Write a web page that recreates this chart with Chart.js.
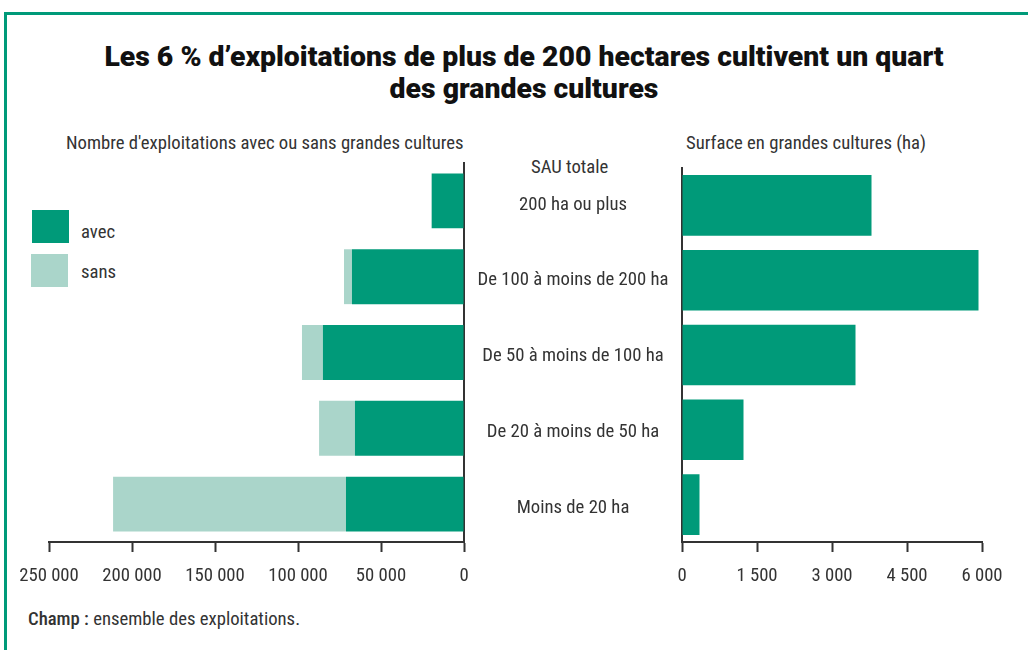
<!DOCTYPE html>
<html>
<head>
<meta charset="utf-8">
<script src="https://cdn.jsdelivr.net/npm/chart.js@4/dist/chart.umd.min.js"></script>
<style>
    body { margin: 0; width: 1028px; height: 650px; background: #fff; position: relative; overflow: hidden;
        font-family: Roboto, sans-serif; font-stretch: condensed; color: #333; }
    #frame { position: absolute; left: 4px; top: 12px; width: 1030px; height: 650px;
        border-top: 3px solid #009a79; border-left: 3px solid #009a79; }
    .txt { position: absolute; white-space: nowrap; font-size: 18.7px; line-height: 22px; color: #333; }
    #title { position: absolute; left: 0; width: 1048px; top: 41px; text-align: center; font-stretch: normal;
        font-size: 28.4px; font-weight: 900; color: #111; line-height: 32px; }
    .sw { position: absolute; width: 37px; height: 33px; }
    canvas { position: absolute; }
</style>
</head>
<body>
<div id="frame"></div>
<div id="title">Les 6 % d’exploitations de plus de 200 hectares cultivent un quart<br>des grandes cultures</div>
<div class="txt" style="left:66px; top:132px;">Nombre d'exploitations avec ou sans grandes cultures</div>
<div class="txt" style="left:686px; top:132px;">Surface en grandes cultures (ha)</div>
<div class="txt" style="left:531px; top:156px;">SAU totale</div>
<div class="sw" style="left:32px; top:210px; background:#009a79;"></div>
<div class="sw" style="left:31px; top:254px; background:#aad5ca;"></div>
<div class="txt" style="left:81px; top:221px;">avec</div>
<div class="txt" style="left:81px; top:261px;">sans</div>
<div class="txt" style="left:28px; top:608px;"><span style="font-weight:500">Champ :</span> ensemble des exploitations.</div>

<div style="position:absolute; left:0; top:150px; width:690px; height:442px;"><canvas id="left_chart"></canvas></div>
<div style="position:absolute; left:660px; top:150px; width:368px; height:442px;"><canvas id="right_chart"></canvas></div>

<script>
    // catégories de SAU totale
    var categories = ['200 ha ou plus', 'De 100 à moins de 200 ha', 'De 50 à moins de 100 ha', 'De 20 à moins de 50 ha', 'Moins de 20 ha'];
    // nombre d'exploitations
    var avec = [19400, 67500, 85000, 65700, 71100];
    var sans = [300, 4800, 12600, 21600, 140300];
    // surface en grandes cultures (ha)
    var surface = [3790, 5930, 3470, 1230, 350];
    var leftTicks = [0, 50000, 100000, 150000, 200000, 250000];
    var rightTicks = [0, 1500, 3000, 4500, 6000];

    var vert = '#009a79';
    var vertClair = '#aad5ca';
    var police = 'Roboto, sans-serif';
    var taille = 18.7;

    Chart.defaults.font.family = police;
    Chart.defaults.color = '#333';
    Chart.defaults.animation = false;

    function fmt(v) {
        return String(v).replace(/\B(?=(\d{3})+(?!\d))/g, ' ');
    }

    // pas de marge automatique autour des axes
    function noPad(scale) {
        scale.paddingLeft = 0;
        scale.paddingRight = 0;
        scale.paddingTop = 0;
        scale.paddingBottom = 0;
    }

    // largeur du libellé le plus long pour centrer les catégories vers x=573
    var mesure = document.createElement('canvas').getContext('2d');
    mesure.font = 'condensed ' + taille + 'px ' + police;
    var plusLarge = 0;
    categories.forEach(function (c) {
        plusLarge = Math.max(plusLarge, mesure.measureText(c).width);
    });
    var padCat = 573 - 464 - plusLarge / 2;

    var xScale = function (list, opts) {
        var s = {
            afterBuildTicks: function (scale) {
                scale.ticks = list.map(function (v) { return {value: v}; });
            },
            afterFit: function (scale) {
                scale.height = 50;
                noPad(scale);
            },
            grid: {drawOnChartArea: false, tickLength: 10, color: '#333', tickWidth: 2},
            border: {color: '#333', width: 2},
            ticks: {font: {size: taille, weight: 'condensed'}, padding: 13, maxRotation: 0,
                callback: function (v) { return fmt(v); }}
        };
        for (var k in opts) s[k] = opts[k];
        return s;
    };

    // graphique de gauche : nombre d'exploitations
    new Chart(document.getElementById('left_chart').getContext('2d'), {
        type: 'bar',
        data: {
            labels: categories,
            datasets: [
                {label: 'avec', data: avec, backgroundColor: vert, barPercentage: 0.724, categoryPercentage: 1},
                {label: 'sans', data: sans, backgroundColor: vertClair, barPercentage: 0.724, categoryPercentage: 1}
            ]
        },
        options: {
            indexAxis: 'y',
            responsive: true,
            maintainAspectRatio: false,
            layout: {autoPadding: false, padding: {left: 49, top: 13, right: 0, bottom: 0}},
            plugins: {legend: {display: false}, tooltip: {enabled: false}},
            scales: {
                x: xScale(leftTicks, {stacked: true, reverse: true, min: 0, max: 250000}),
                y: {
                    stacked: true, position: 'right',
                    afterFit: function (scale) {
                        scale.width = 226;
                        noPad(scale);
                    },
                    grid: {display: false, drawTicks: false},
                    border: {color: '#333', width: 2},
                    ticks: {font: {size: taille, weight: 'condensed'}, crossAlign: 'center', padding: padCat, labelOffset: 4}
                }
            }
        }
    });

    // graphique de droite : surface en grandes cultures
    new Chart(document.getElementById('right_chart').getContext('2d'), {
        type: 'bar',
        data: {
            labels: categories,
            datasets: [
                {label: 'surface', data: surface, backgroundColor: vert, barPercentage: 0.81, categoryPercentage: 1}
            ]
        },
        options: {
            indexAxis: 'y',
            responsive: true,
            maintainAspectRatio: false,
            layout: {autoPadding: false, padding: {left: 0, top: 18, right: 46, bottom: 0}},
            plugins: {legend: {display: false}, tooltip: {enabled: false}},
            scales: {
                x: xScale(rightTicks, {min: 0, max: 6000}),
                y: {
                    position: 'left',
                    afterFit: function (scale) {
                        scale.width = 22;
                        noPad(scale);
                    },
                    grid: {display: false, drawTicks: false},
                    border: {color: '#333', width: 2},
                    ticks: {display: false}
                }
            }
        }
    });
</script>
</body>
</html>
